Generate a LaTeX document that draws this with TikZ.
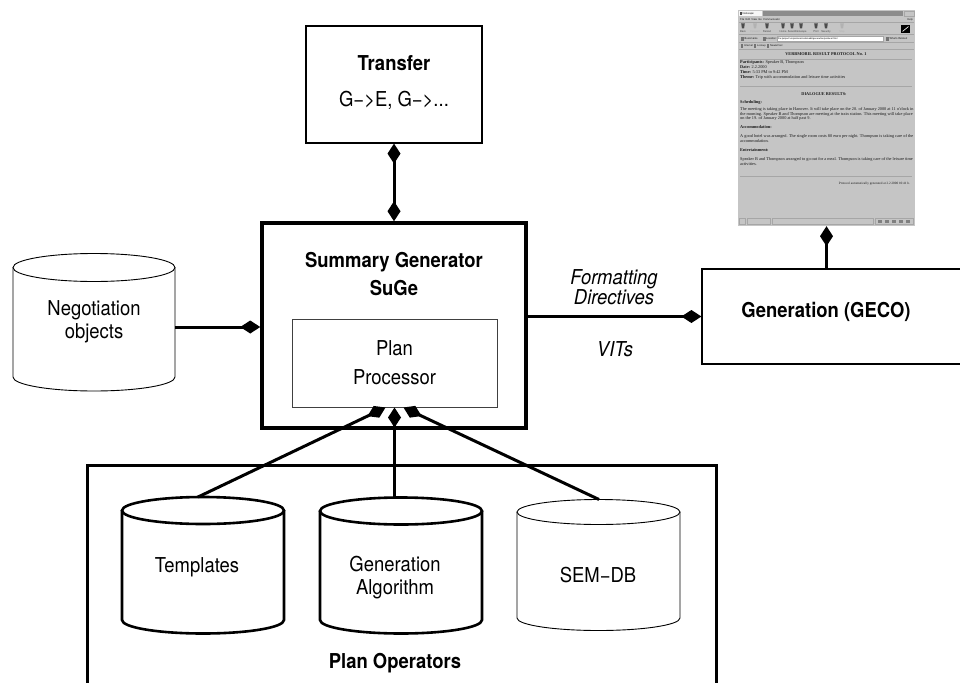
\documentclass[tikz,border=0pt]{standalone}
\usepackage{fontspec}
\setmainfont{TeX Gyre Heros}[FakeStretch=0.9]
\newfontfamily\uifont{TeX Gyre Heros}
\newfontfamily\webserif{Liberation Serif}
\usetikzlibrary{arrows.meta}
\definecolor{winbg}{RGB}{197,197,197}
\definecolor{wintext}{RGB}{25,25,25}

% database cylinder: style, centre x, centre y of top ellipse, x radius, y radius, side height
\newcommand{\dbcyl}[6]{%
  \draw[#1] ({#2-#4},#3) -- ({#2-#4},{#3+#6})
    arc[start angle=180,end angle=0,x radius=#4,y radius=#5] -- ({#2+#4},#3);
  \draw[#1] (#2,#3) ellipse[x radius=#4,y radius=#5];
}

\begin{document}
\begin{tikzpicture}[x=1pt,y=-1pt,
  lbl/.style={inner sep=0pt, align=center, font=\fontsize{20.5}{23}\selectfont},
  lblb/.style={inner sep=0pt, align=center, font=\bfseries\fontsize{20.5}{23}\selectfont},
  lbli/.style={inner sep=0pt, align=center, font=\itshape\fontsize{20.5}{20}\selectfont},
  thinbox/.style={draw, line width=1.2pt, inner sep=0pt},
  conn/.style={line width=3pt},
  dtip/.style={-{Diamond[length=20pt,width=13pt]}},
  dtips/.style={{Diamond[length=20pt,width=13pt]}-{Diamond[length=20pt,width=13pt]}},
  dbthick/.style={line width=2.6pt},
  dbthin/.style={line width=0.9pt},
  web/.style={inner sep=0pt, text=wintext, align=left, font=\webserif\fontsize{4.3}{4.75}\selectfont},
  webb/.style={inner sep=0pt, text=wintext, font=\webserif\bfseries\fontsize{4.3}{4.75}\selectfont},
  ui/.style={inner sep=0pt, text=wintext, font=\uifont\fontsize{2.6}{3}\selectfont},
  uirule/.style={line width=0.35pt, draw=black!35},
]
\useasboundingbox (0,0) rectangle (960,682);

% ---------------- boxes ----------------
\node[thinbox, minimum width=176pt, minimum height=117pt] (transfer) at (394,84.5) {};
\node[lblb] (transfertitle) at (394,63) {Transfer};
\node[lbl] (transferdir) at (394,100) {G−>E, G−>...};

\node[draw, line width=3.5pt, inner sep=0pt, minimum width=264pt, minimum height=205pt] (suge) at (394,325.5) {};
\node[lblb, font=\bfseries\fontsize{20.5}{28}\selectfont] (sugetitle) at (394,274) {Summary Generator\\SuGe};

\node[draw=black!75, line width=1pt, inner sep=0pt, minimum width=205pt, minimum height=88pt] (pp) at (394.5,363) {};
\node[lbl, font=\fontsize{20.5}{29}\selectfont] (pptext) at (394.5,362.5) {Plan\\Processor};

\node[thinbox, minimum width=262pt, minimum height=95pt] (gen) at (833,316.5) {};
\node[lblb] (gentext) at (826,312) {Generation (GECO)};

\node[draw, line width=3pt, inner sep=0pt, minimum width=629pt, minimum height=240pt] (ops) at (401.5,585) {};
\node[lblb] (opstext) at (395,663) {Plan Operators};

% ---------------- databases ----------------
\dbcyl{dbthin}{94}{267.5}{81}{14}{109.5}
\node[lbl] (neg) at (94,322) {Negotiation\\objects};
\coordinate (negside) at (175,327);

\dbcyl{dbthick}{203}{510.5}{81}{13.5}{109.5}
\node[lbl] (tmpl) at (197,567) {Templates};
\coordinate (tmpltop) at (198,497);

\dbcyl{dbthick}{401}{511}{81}{13.5}{109}
\node[lbl] (genalg) at (395,578) {Generation\\Algorithm};
\coordinate (genalgtop) at (394.5,497.5);

\dbcyl{dbthin}{598.5}{512}{81.5}{12.5}{106}
\node[lbl] (semdb) at (598,575) {SEM−DB};
\coordinate (semdbtop) at (599,499.5);

% ---------------- result window ----------------
\node[fill=winbg, inner sep=0pt, minimum width=177pt, minimum height=216pt] (shot) at (826.5,118) {};
% title bar
\fill[black!3] (739,11) rectangle (762,16);
\fill[black!70] (739.5,11.6) rectangle (741.8,15.4);
\node[ui, anchor=west] (wintitle) at (742.5,13.5) {Netscape:};
\fill[black!45] (763,11) rectangle (903,16);
\draw[uirule] (904,11) rectangle (914,16);
% menu bar
\node[ui, anchor=west] (menu) at (740,19.5) {File\enspace Edit\enspace View\enspace Go\enspace Communicator};
\node[ui, anchor=east] (help) at (913,19.5) {Help};
\draw[uirule] (739,21.8) -- (914,21.8);
% navigation toolbar
\foreach \ix/\lab/\shade in {743/Back/70, 755/Forward/30, 767/Reload/70, 783/Home/70, 792/Search/70,
                             801/Netscape/70, 816/Print/70, 826/Security/70, 842/Stop/30} {
  \fill[black!\shade] (\ix-1.8,23.5) -- (\ix+1.8,23.5) -- (\ix+1.1,28.3) -- (\ix-1.1,28.3) -- cycle;
  \node[ui, text=black!\shade] at (\ix,31.6) {\lab};
}
\fill[black] (901,25) rectangle (910,33);
\draw[white, line width=0.6pt] (902.5,31.5) -- (908.5,26.5);
\draw[uirule] (739,34.6) -- (914,34.6);
% location bar
\fill[black!55] (741,36.8) rectangle (743.5,40.6);
\node[ui, anchor=west] (bm) at (744.5,38.7) {Bookmarks};
\fill[black!55] (763,36.8) rectangle (765.5,40.6);
\node[ui, anchor=west] (loc) at (766,38.7) {Location:};
\fill[white] (777,36.5) rectangle (883,41);
\draw[uirule] (777,36.5) rectangle (883,41);
\node[ui, anchor=west, font=\uifont\fontsize{2.3}{3}\selectfont] (url) at (778,38.7)
  {file:/project/vm/protocol/verbmobil/generation/protocol.html};
\fill[black!55] (886,36.8) rectangle (888.5,40.6);
\node[ui, anchor=west] (rel) at (889.5,38.7) {What's Related};
\draw[uirule] (739,42.6) -- (914,42.6);
% personal toolbar
\foreach \ix/\lab in {741/Internet, 754/Lookup, 767/New\&Cool} {
  \fill[black!55] (\ix,44.4) rectangle (\ix+2.2,47.6);
  \node[ui, anchor=west] at (\ix+3,46) {\lab};
}
\draw[uirule] (739,49.6) -- (914,49.6);

% page content
\node[webb] (wtitle) at (826,54) {VERBMOBIL RESULT PROTOCOL No. 1};
\draw[uirule] (740,59) -- (912,59);
\node[web, anchor=north west] (wpart) at (740,60.6)
  {\textbf{Participants:} Speaker B, Thompson\\
   \textbf{Date:} 2.2.2000\\
   \textbf{Time:} 5:33 PM to 9:42 PM\\
   \textbf{Theme:} Trip with accommodation and leisure time activities};
\draw[uirule] (740,86) -- (912,86);
\node[webb] (wres) at (824,94) {DIALOGUE RESULTS:};
\node[webb, anchor=west] (wsched) at (740,102.7) {Scheduling:};
\node[web, anchor=north west] (wschedtext) at (740,107.2)
  {The meeting is taking place in Hanover. It will take place on the 20. of January 2000 at 11 o'clock in\\
   the morning. Speaker B and Thompson are meeting at the train station. This meeting will take place\\
   on the 19. of January 2000 at half past 9.};
\node[webb, anchor=west] (waccom) at (740,127.3) {Accommodation:};
\node[web, anchor=north west] (waccomtext) at (740,134.6)
  {A good hotel was arranged. The single room costs 80 euro per night. Thompson is taking care of the\\
   accommodation.};
\node[webb, anchor=west] (wenter) at (740,150) {Entertainment:};
\node[web, anchor=north west] (wentertext) at (740,157.6)
  {Speaker B and Thompson arranged to go out for a meal. Thompson is taking care of the leisure time\\
   activities.};
\draw[uirule] (740,176) -- (912,176);
\node[web, anchor=east, font=\webserif\fontsize{3.3}{4}\selectfont] (wgen) at (910,184)
  {Protocol automatically generated at 2.2.2000 10:41 h.};
% status bar
\draw[uirule] (739.5,218) rectangle (745,224);
\draw[uirule] (747,218) rectangle (770,224);
\draw[uirule] (772,218) rectangle (873,224);
\draw[uirule] (875,218) rectangle (913.5,224);
\foreach \ix in {878,885,892,899,906} {
  \fill[black!50] (\ix,219.5) rectangle (\ix+3.5,222.5);
}

% ---------------- connectors ----------------
\draw[conn, dtips] (transfer.south) -- (suge.north);
\draw[conn, dtip] (negside) -- (negside -| suge.west);
\draw[conn, dtip] (suge.east |- gen.west) -- (gen.west);
\draw[conn, dtip] (shot.south |- gen.north) -- (shot.south);
\draw[conn, dtip] (tmpltop) -- ([xshift=-9pt]pp.south);
\draw[conn, dtip] (genalgtop) -- (pp.south);
\draw[conn, dtip] (semdbtop) -- ([xshift=9pt]pp.south);

% ---------------- edge labels ----------------
\node[lbli] (fmt) at (614,287) {Formatting\\Directives};
\node[lbli] (vits) at (615,349) {VITs};
\end{tikzpicture}
\end{document}
